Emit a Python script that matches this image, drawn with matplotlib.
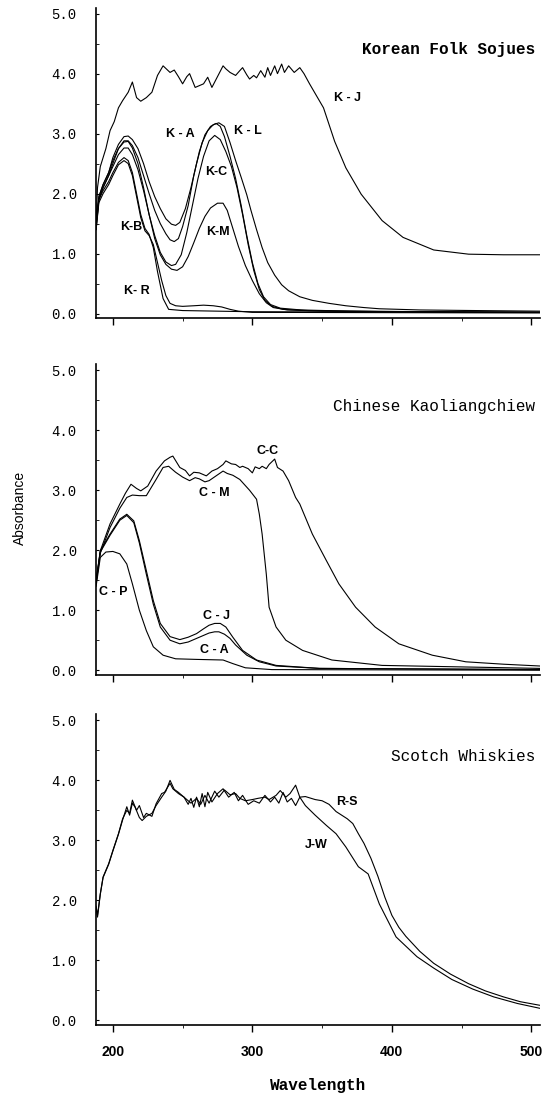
import matplotlib
matplotlib.use("Agg")
import matplotlib.pyplot as plt
from matplotlib.ticker import MultipleLocator

# ---- Korean Folk Sojues ----
kj_wl = [188, 189, 191, 195, 198, 201, 204, 207, 211, 214, 217, 220, 224, 228, 232, 236, 241, 244, 247,
         250, 253, 255, 259, 262, 265, 268, 271, 275, 279, 281, 284, 288, 291, 293, 296, 298, 301, 303,
         306, 309, 311, 313, 316, 318, 321, 323, 326, 330, 334, 337, 341, 348, 351, 359, 367, 378, 393,
         408, 430, 455, 480, 506]
kj_abs = [1.5, 2.1, 2.45, 2.75, 3.05, 3.2, 3.43, 3.55, 3.69, 3.86, 3.6, 3.54, 3.6, 3.69, 3.97, 4.13, 4.02,
          4.06, 3.95, 3.83, 3.95, 4.0, 3.77, 3.8, 3.83, 3.94, 3.77, 3.95, 4.13, 4.08, 4.02, 3.97, 4.05,
          4.1, 3.98, 3.91, 3.97, 3.93, 4.05, 3.94, 4.1, 3.97, 4.13, 4.0, 4.16, 4.02, 4.13, 4.02, 4.1,
          4.0, 3.83, 3.55, 3.43, 2.87, 2.43, 1.99, 1.55, 1.27, 1.06, 0.99, 0.98, 0.98]

kl_wl = [188, 190, 193, 197, 200, 204, 208, 211, 214, 218, 222, 226, 230, 234, 238, 242, 245, 248, 252,
         256, 260, 264, 268, 272, 276, 280, 284, 288, 292, 296, 299, 303, 307, 311, 316, 321, 326, 334,
         343, 355, 367, 380, 391, 420, 460, 506]
kl_abs = [1.5, 1.95, 2.15, 2.35, 2.6, 2.82, 2.95, 2.96, 2.9, 2.75, 2.5, 2.2, 1.95, 1.75, 1.58, 1.49, 1.47,
          1.52, 1.75, 2.1, 2.5, 2.85, 3.05, 3.15, 3.18, 3.12, 2.85, 2.55, 2.27, 1.98, 1.72, 1.4, 1.1,
          0.85, 0.64, 0.48, 0.38, 0.28, 0.22, 0.17, 0.13, 0.1, 0.08, 0.06, 0.05, 0.04]

ka_wl = [188, 190, 193, 197, 200, 204, 208, 211, 214, 218, 222, 226, 230, 234, 238, 241, 244, 247, 250,
         254, 258, 262, 266, 270, 274, 277, 280, 284, 288, 292, 296, 300, 304, 308, 313, 320, 335, 370, 506]
ka_abs = [1.6, 1.9, 2.1, 2.3, 2.5, 2.75, 2.88, 2.88, 2.8, 2.6, 2.3, 2.0, 1.72, 1.5, 1.33, 1.23, 1.2, 1.25,
          1.45, 1.8, 2.3, 2.7, 2.98, 3.12, 3.17, 3.12, 2.95, 2.62, 2.25, 1.8, 1.3, 0.85, 0.5, 0.28, 0.15,
          0.09, 0.06, 0.04, 0.02]

kc_wl = [188, 190, 193, 197, 200, 204, 208, 211, 214, 218, 222, 226, 230, 234, 238, 242, 245, 249, 253,
         257, 261, 265, 269, 273, 277, 281, 285, 289, 293, 297, 301, 305, 309, 314, 322, 340, 400, 506]
kc_abs = [1.4, 1.9, 2.1, 2.3, 2.45, 2.65, 2.76, 2.76, 2.65, 2.4, 2.05, 1.65, 1.3, 1.02, 0.86, 0.8, 0.82,
          0.98, 1.35, 1.8, 2.25, 2.62, 2.88, 2.97, 2.9, 2.7, 2.45, 2.1, 1.65, 1.15, 0.72, 0.4, 0.22,
          0.12, 0.07, 0.05, 0.03, 0.02]

km_wl = [188, 190, 193, 197, 200, 204, 208, 211, 214, 218, 222, 226, 230, 234, 238, 242, 246, 250, 254,
         258, 262, 266, 270, 275, 279, 282, 286, 290, 295, 300, 305, 310, 315, 325, 350, 506]
km_abs = [1.5, 1.95, 2.15, 2.35, 2.55, 2.75, 2.86, 2.87, 2.76, 2.5, 2.1, 1.65, 1.25, 0.98, 0.82, 0.74,
          0.72, 0.78, 0.95, 1.18, 1.42, 1.62, 1.76, 1.84, 1.84, 1.72, 1.42, 1.12, 0.8, 0.55, 0.33, 0.18,
          0.1, 0.06, 0.04, 0.02]

kr_wl = [188, 190, 193, 197, 200, 204, 208, 211, 214, 217, 220, 223, 226, 229, 232, 235, 238, 241, 245,
         250, 258, 265, 272, 278, 284, 290, 300, 506]
kr_abs = [1.4, 1.85, 2.0, 2.15, 2.3, 2.48, 2.55, 2.5, 2.3, 1.95, 1.6, 1.38, 1.3, 1.15, 0.85, 0.55, 0.3,
          0.17, 0.13, 0.12, 0.13, 0.14, 0.13, 0.11, 0.07, 0.04, 0.02, 0.01]

kb_wl = [188, 190, 193, 197, 200, 204, 208, 211, 214, 217, 220, 223, 226, 229, 232, 236, 240, 250, 300, 506]
kb_abs = [1.45, 1.9, 2.05, 2.2, 2.35, 2.52, 2.6, 2.55, 2.35, 2.0, 1.65, 1.42, 1.32, 1.1, 0.7, 0.25, 0.07,
          0.05, 0.03, 0.02]

# ---- Chinese Kaoliangchiew ----
cc_wl = [188, 191, 198, 205, 209, 213, 217, 220, 225, 231, 237, 241, 243, 248, 252, 255, 258, 262, 267,
         271, 275, 279, 281, 285, 288, 291, 293, 297, 300, 302, 305, 307, 310, 312, 316, 318, 322, 326,
         331, 334, 343, 353, 362, 374, 388, 405, 429, 453, 480, 506]
cc_abs = [1.45, 1.99, 2.44, 2.77, 2.95, 3.1, 3.03, 2.99, 3.07, 3.32, 3.49, 3.55, 3.57, 3.38, 3.33, 3.24,
          3.3, 3.29, 3.24, 3.32, 3.36, 3.43, 3.49, 3.44, 3.43, 3.38, 3.4, 3.36, 3.29, 3.39, 3.36, 3.4,
          3.36, 3.43, 3.52, 3.38, 3.32, 3.16, 2.88, 2.77, 2.27, 1.83, 1.44, 1.05, 0.72, 0.44, 0.25, 0.14,
          0.1, 0.07]

cm_wl = [188, 191, 198, 205, 210, 214, 219, 224, 231, 236, 240, 245, 250, 255, 259, 262, 266, 269, 274,
         279, 282, 286, 291, 298, 303, 305, 307, 310, 312, 317, 324, 336, 357, 393, 506]
cm_abs = [1.45, 1.95, 2.38, 2.7, 2.88, 2.92, 2.91, 2.91, 3.18, 3.38, 3.4, 3.3, 3.22, 3.16, 3.21, 3.19,
          3.14, 3.16, 3.24, 3.32, 3.28, 3.25, 3.18, 3.0, 2.85, 2.6, 2.27, 1.6, 1.05, 0.72, 0.5, 0.33,
          0.17, 0.08, 0.03]

cj_wl = [188, 191, 198, 205, 210, 215, 219, 224, 229, 234, 241, 248, 254, 260, 265, 269, 273, 277, 281,
         286, 293, 303, 317, 348, 506]
cj_abs = [1.5, 1.99, 2.27, 2.52, 2.6, 2.49, 2.16, 1.66, 1.16, 0.78, 0.56, 0.51, 0.55, 0.61, 0.69, 0.75,
          0.78, 0.78, 0.72, 0.55, 0.33, 0.17, 0.08, 0.03, 0.01]

ca_wl = [188, 191, 198, 205, 210, 215, 219, 224, 229, 234, 241, 248, 254, 260, 265, 269, 273, 276, 280,
         284, 288, 296, 305, 317, 348, 506]
ca_abs = [1.5, 1.97, 2.25, 2.5, 2.58, 2.46, 2.12, 1.6, 1.1, 0.72, 0.5, 0.44, 0.47, 0.53, 0.58, 0.62,
          0.64, 0.64, 0.6, 0.53, 0.42, 0.25, 0.14, 0.07, 0.03, 0.01]

cp_wl = [188, 191, 195, 200, 205, 210, 214, 219, 224, 229, 236, 245, 260, 279, 286, 295, 314, 506]
cp_abs = [1.4, 1.88, 1.97, 1.98, 1.94, 1.77, 1.44, 1.0, 0.66, 0.39, 0.25, 0.19, 0.18, 0.17, 0.11, 0.04,
          0.01, 0.0]

# ---- Scotch Whiskies ----
rs_wl = [188, 189, 191, 193, 197, 200, 204, 207, 210, 212, 214, 217, 219, 222, 224, 228, 231, 235, 237,
         241, 243, 247, 251, 256, 260, 263, 266, 269, 273, 276, 280, 284, 288, 291, 295, 300, 304, 309,
         312, 317, 320, 324, 327, 331, 334, 338, 345, 350, 355, 360, 364, 368, 372, 376, 380, 385, 390,
         395, 400, 405, 410, 420, 430, 442, 455, 467, 480, 492, 506]
rs_abs = [1.9, 1.75, 2.11, 2.39, 2.61, 2.83, 3.11, 3.36, 3.5, 3.45, 3.67, 3.5, 3.58, 3.38, 3.45, 3.4,
          3.61, 3.78, 3.8, 3.95, 3.86, 3.78, 3.72, 3.62, 3.7, 3.6, 3.75, 3.62, 3.82, 3.72, 3.84, 3.76,
          3.78, 3.7, 3.66, 3.68, 3.7, 3.72, 3.68, 3.75, 3.83, 3.72, 3.78, 3.92, 3.72, 3.73, 3.68, 3.66,
          3.6, 3.48, 3.42, 3.36, 3.28, 3.11, 2.95, 2.7, 2.4, 2.05, 1.75, 1.55, 1.4, 1.15, 0.95, 0.77,
          0.61, 0.49, 0.39, 0.31, 0.25]

jw_wl = [188, 189, 191, 193, 197, 200, 204, 207, 210, 212, 214, 216, 219, 221, 224, 228, 231, 235, 238,
         241, 244, 247, 251, 254, 256, 258, 260, 262, 264, 266, 268, 271, 275, 279, 283, 287, 290, 293,
         297, 301, 305, 309, 313, 316, 319, 322, 325, 328, 331, 334, 338, 345, 353, 360, 367, 376, 383,
         391, 403, 418, 430, 443, 458, 473, 490, 506]
jw_abs = [1.88, 1.72, 2.1, 2.38, 2.6, 2.82, 3.1, 3.34, 3.56, 3.42, 3.62, 3.55, 3.38, 3.33, 3.4, 3.45,
          3.58, 3.72, 3.82, 4.0, 3.85, 3.8, 3.72, 3.6, 3.7, 3.55, 3.72, 3.56, 3.78, 3.56, 3.8, 3.64, 3.78,
          3.86, 3.72, 3.8, 3.66, 3.75, 3.6, 3.66, 3.62, 3.75, 3.64, 3.72, 3.62, 3.8, 3.64, 3.7, 3.58,
          3.72, 3.58, 3.42, 3.25, 3.11, 2.89, 2.56, 2.44, 1.94, 1.39, 1.06, 0.87, 0.68, 0.52, 0.39,
          0.28, 0.2]

panels = [
    ("Korean Folk Sojues", "bold",
     [(kj_wl, kj_abs), (kl_wl, kl_abs), (ka_wl, ka_abs), (kc_wl, kc_abs),
      (km_wl, km_abs), (kr_wl, kr_abs), (kb_wl, kb_abs)],
     [("K - J", 368, 3.6), ("K - A", 248, 3.0), ("K - L", 297, 3.05), ("K-C", 274, 2.36),
      ("K-M", 275, 1.36), ("K-B", 213, 1.45), ("K- R", 217, 0.38)]),
    ("Chinese Kaoliangchiew", "normal",
     [(cc_wl, cc_abs), (cm_wl, cm_abs), (cj_wl, cj_abs), (ca_wl, ca_abs), (cp_wl, cp_abs)],
     [("C-C", 311, 3.65), ("C - M", 273, 2.96), ("C - J", 274, 0.91), ("C - A", 273, 0.33),
      ("C - P", 200, 1.3)]),
    ("Scotch Whiskies", "normal",
     [(rs_wl, rs_abs), (jw_wl, jw_abs)],
     [("R-S", 368, 3.64), ("J-W", 346, 2.92)]),
]

fig = plt.figure(figsize=(5.43, 10.94), dpi=100)
bottoms = [0.709, 0.383, 0.063]

for i, (title, weight, curves, labels) in enumerate(panels):
    ax = fig.add_axes([0.177, bottoms[i], 0.817, 0.284])
    for wl, ab in curves:
        ax.plot(wl, ab, color="black", lw=0.8)
    for txt, x, y in labels:
        ax.text(x, y, txt, ha="center", va="center", fontsize=9, fontweight="bold",
                family="Liberation Sans")
    ax.text(503, 4.4, title, ha="right", va="center", fontsize=11.5, fontweight=weight,
            family="Liberation Mono")
    ax.set_xlim(188, 506)
    ax.set_ylim(-0.08, 5.1)
    ax.spines["top"].set_visible(False)
    ax.spines["right"].set_visible(False)
    ax.spines["left"].set_linewidth(1.2)
    ax.spines["bottom"].set_linewidth(1.2)
    ax.set_yticks([0, 1, 2, 3, 4, 5])
    ax.set_yticklabels(["0.0", "1.0", "2.0", "3.0", "4.0", "5.0"], family="Liberation Mono",
                       fontsize=10)
    ax.yaxis.set_minor_locator(MultipleLocator(0.5))
    ax.tick_params(axis="y", which="both", direction="in", length=2, pad=14)
    ax.set_xticks([200, 300, 400, 500])
    ax.xaxis.set_minor_locator(MultipleLocator(50))
    ax.tick_params(axis="x", which="major", direction="out", length=5, width=1)
    ax.tick_params(axis="x", which="minor", direction="out", length=2)
    if i < 2:
        ax.set_xticklabels([])
    else:
        ax.set_xticklabels(["200", "300", "400", "500"], fontweight="bold", fontsize=10,
                           family="Liberation Sans")
        ax.tick_params(axis="x", which="major", pad=9)
        ax.set_xlabel("Wavelength", family="Liberation Mono", fontweight="bold", fontsize=11.5,
                      labelpad=14)

fig.text(0.037, 0.536, "Absorbance", rotation=90, ha="center", va="center", fontsize=10,
         family="Liberation Sans")

fig.savefig("out.png", dpi=100)
